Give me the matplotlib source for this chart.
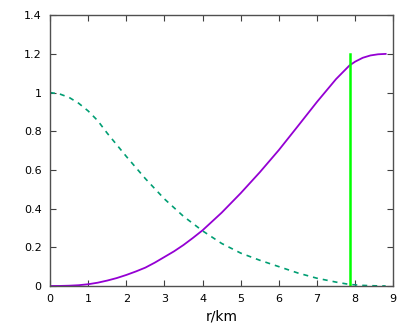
import matplotlib
matplotlib.use('Agg')
import matplotlib.pyplot as plt

# valores
r_masa = [0, 0.25, 0.5, 0.75, 1, 1.25, 1.5, 1.75, 2, 2.25, 2.5, 2.75, 3, 3.25, 3.5, 3.75, 4,
          4.5, 5, 5.5, 6, 6.5, 7, 7.5, 7.7, 7.85, 8.0, 8.2, 8.4, 8.6, 8.8]
masa = [0, 0.0002, 0.0015, 0.004, 0.009, 0.017, 0.028, 0.041, 0.057, 0.075, 0.095, 0.121, 0.15,
        0.179, 0.212, 0.249, 0.288, 0.379, 0.48, 0.588, 0.703, 0.827, 0.952, 1.07, 1.11, 1.14,
        1.16, 1.18, 1.192, 1.198, 1.2]

r_dens = [0, 0.25, 0.5, 0.75, 1, 1.25, 1.5, 2, 2.5, 3, 3.5, 4, 4.5, 5, 5.5, 6, 6.5, 7, 7.5,
          7.85, 8.2, 8.5, 8.8]
densidad = [1.0, 0.993, 0.975, 0.945, 0.905, 0.855, 0.79, 0.67, 0.555, 0.45, 0.36, 0.285, 0.22,
            0.17, 0.133, 0.10, 0.067, 0.04, 0.02, 0.008, 0.003, 0.001, 0]

r_radio = 7.86
altura_radio = 1.2

xticks = list(range(0, 10))
yticks = [0, 0.2, 0.4, 0.6, 0.8, 1, 1.2, 1.4]
ylabels = ['0', '0.2', '0.4', '0.6', '0.8', '1', '1.2', '1.4']

fig = plt.figure(figsize=(4.15, 3.31), dpi=100)
ax = fig.add_axes([0.1205, 0.136, 0.8272, 0.818])

ax.plot(r_dens, densidad, color='#009E73', lw=1.2, dashes=(3, 3))
ax.plot(r_masa, masa, color='#9400D3', lw=1.3)
ax.plot([r_radio, r_radio], [0, altura_radio], color='#00FF00', lw=1.8)

ax.set_xlim(0, 9)
ax.set_ylim(0, 1.4)
ax.set_xticks(xticks)
ax.set_xticklabels([str(t) for t in xticks])
ax.set_yticks(yticks)
ax.set_yticklabels(ylabels)

ax.tick_params(direction='in', length=4, width=0.8, color='#404040',
               top=True, right=True, labelsize=8, pad=6)
for s in ax.spines.values():
    s.set_color('#505050')
    s.set_linewidth(1)

ax.set_xlabel('r/km', fontsize=10, labelpad=4)

fig.savefig('out.png', dpi=100)
